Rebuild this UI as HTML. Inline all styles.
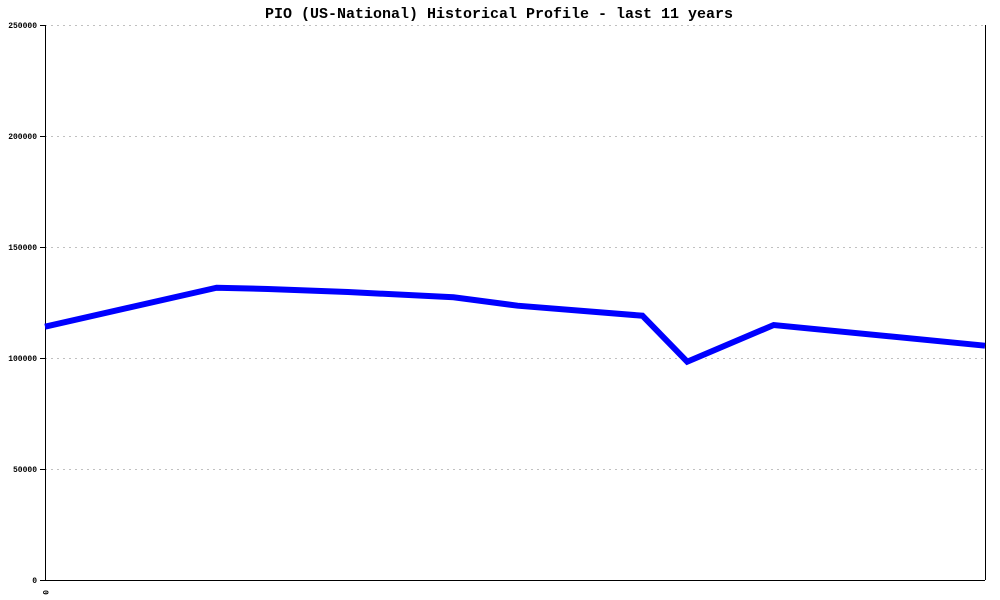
<!DOCTYPE html>
<html><head><meta charset="utf-8"><style>body{margin:0;background:#fff}svg{display:block}</style></head><body>
<svg width="1000" height="600" xmlns="http://www.w3.org/2000/svg" font-family="Liberation Mono, monospace">
<rect width="1000" height="600" fill="#fff"/>
<text x="499" y="18" text-anchor="middle" font-size="15" font-weight="bold">PIO (US-National) Historical Profile - last 11 years</text>
<g stroke="#c0c0c0" stroke-dasharray="2,4" stroke-width="1">
<line x1="45" y1="25.5" x2="985" y2="25.5"/>
<line x1="45" y1="136.5" x2="985" y2="136.5"/>
<line x1="45" y1="247.5" x2="985" y2="247.5"/>
<line x1="45" y1="358.5" x2="985" y2="358.5"/>
<line x1="45" y1="469.5" x2="985" y2="469.5"/>
</g>
<g stroke="#000" stroke-width="1">
<line x1="45.5" y1="25" x2="45.5" y2="580"/>
<line x1="985.5" y1="25" x2="985.5" y2="580"/>
<line x1="45" y1="580.5" x2="985" y2="580.5"/>
<line x1="40" y1="25.5" x2="45" y2="25.5"/>
<line x1="40" y1="136.5" x2="45" y2="136.5"/>
<line x1="40" y1="247.5" x2="45" y2="247.5"/>
<line x1="40" y1="358.5" x2="45" y2="358.5"/>
<line x1="40" y1="469.5" x2="45" y2="469.5"/>
<line x1="40" y1="580.5" x2="45" y2="580.5"/>
</g>
<g font-size="8" text-anchor="end" font-weight="bold">
<text x="37" y="28">250000</text>
<text x="37" y="139">200000</text>
<text x="37" y="250">150000</text>
<text x="37" y="361">100000</text>
<text x="37" y="472">50000</text>
<text x="37" y="583">0</text>
</g>
<text x="0" y="0" font-size="8" font-weight="bold" transform="translate(43,590) rotate(90)" text-anchor="start">0</text>
<polyline fill="none" stroke="#0000ff" stroke-width="6" stroke-linejoin="miter" points="45,326.7 216.6,287.7 267.8,289 347.9,292 453.5,297.3 517.6,305.7 642.4,315.7 687.2,361.7 773.7,325 985,345.7"/>
</svg>
</body></html>
